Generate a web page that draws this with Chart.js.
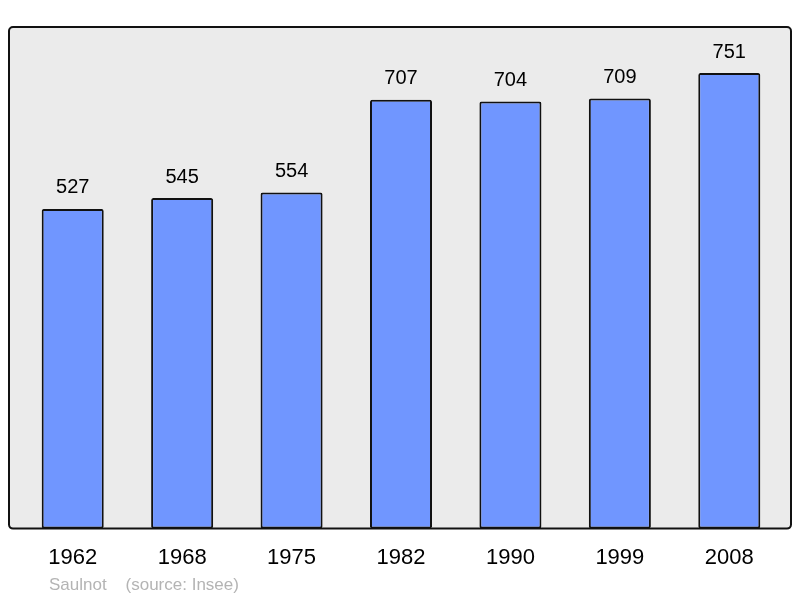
<!DOCTYPE html>
<html>
<head>
<meta charset="utf-8">
<script src="https://cdn.jsdelivr.net/npm/chart.js@4"></script>
<style>
  html, body { margin: 0; padding: 0; background: #fff; }
  #wrap { position: relative; width: 800px; height: 598px; }
  #source {
    position: absolute; left: 49px; top: 575px;
    font: 17px "Liberation Sans", Arial, sans-serif; color: #b4b4b4;
    white-space: pre;
  }
</style>
</head>
<body>
<div id="wrap">
  <canvas id="chart" width="800" height="598"></canvas>
  <div id="source">Saulnot    (source: Insee)</div>
</div>
<script>
const years = ["1962", "1968", "1975", "1982", "1990", "1999", "2008"];
const population = [527, 545, 554, 707, 704, 709, 751];
const yMax = 827;

// grey rounded box behind the plot, a bit wider than the chart area
const plotBox = {
  id: "plotBox",
  beforeDraw(chart) {
    const { ctx, chartArea: a } = chart;
    const l = a.left - 9, r = a.right + 7, t = a.top, b = a.bottom;
    ctx.save();
    ctx.beginPath();
    ctx.roundRect(l, t, r - l, b - t, 4);
    ctx.fillStyle = "#ebebeb";
    ctx.fill();
    ctx.restore();
  },
  afterDatasetsDraw(chart) {
    const { ctx, chartArea: a } = chart;
    const l = a.left - 9, r = a.right + 7, t = a.top, b = a.bottom;
    ctx.save();
    ctx.beginPath();
    ctx.roundRect(l, t, r - l, b - t, 4);
    ctx.lineWidth = 2;
    ctx.strokeStyle = "#111";
    ctx.stroke();
    // values above bars
    ctx.fillStyle = "#000";
    ctx.font = '20px "Liberation Sans", Arial, sans-serif';
    ctx.textAlign = "center";
    ctx.textBaseline = "middle";
    chart.getDatasetMeta(0).data.forEach((bar, i) => {
      ctx.fillText(String(population[i]), bar.x, bar.y - 21);
    });
    ctx.restore();
  }
};

new Chart(document.getElementById("chart"), {
  type: "bar",
  data: {
    labels: years,
    datasets: [{
      data: population,
      backgroundColor: "#7096ff",
      borderColor: "#111",
      borderWidth: 2,
      borderRadius: 2,
      borderSkipped: false,
      categoryPercentage: 1,
      barPercentage: 0.567
    }]
  },
  options: {
    responsive: false,
    animation: false,
    layout: { padding: { left: 18, right: 16, top: 27, bottom: 11 } },
    plugins: { legend: { display: false }, tooltip: { enabled: false } },
    scales: {
      x: {
        grid: { display: false, drawTicks: false },
        border: { display: false },
        ticks: {
          color: "#000",
          padding: 16,
          font: { family: '"Liberation Sans", Arial, sans-serif', size: 22 }
        }
      },
      y: { display: false, min: 0, max: yMax }
    }
  },
  plugins: [plotBox]
});
</script>
</body>
</html>
